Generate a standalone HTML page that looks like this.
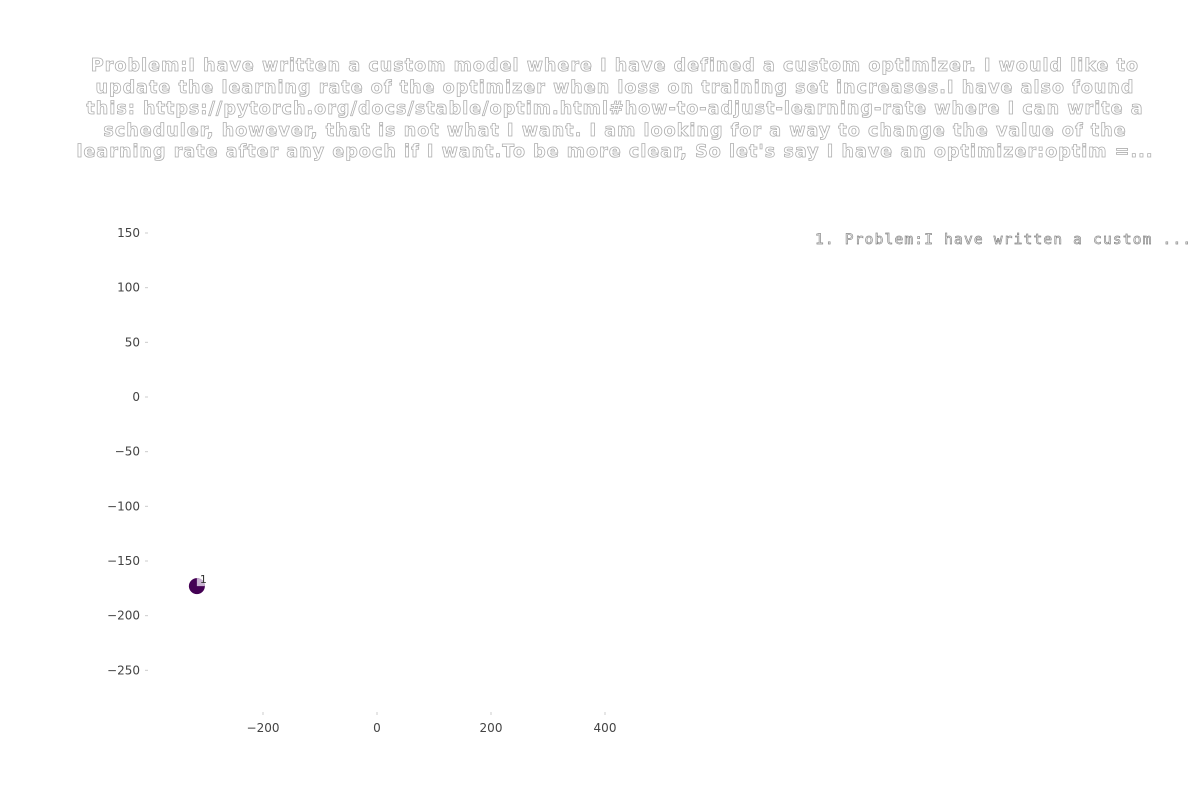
<!DOCTYPE html>
<html><head><meta charset="utf-8"><style>
body{margin:0;background:#fff;width:1200px;height:800px;overflow:hidden;font-family:"DejaVu Sans","Liberation Sans",sans-serif}
#title{position:absolute;left:0;width:1230px;top:56px;text-align:center;font-weight:bold;font-size:17.5px;line-height:21.6px;letter-spacing:1.05px;white-space:nowrap;color:#fff;-webkit-text-stroke:0.8px #b0b0b0}
#legend{position:absolute;left:815px;top:232px;font-family:"DejaVu Sans Mono","Liberation Mono",monospace;font-size:14.5px;letter-spacing:1.2px;color:#fff;-webkit-text-stroke:0.7px #888;white-space:pre}
</style></head><body>
<div id="title">Problem:I have written a custom model where I have defined a custom optimizer. I would like to<br>update the learning rate of the optimizer when loss on training set increases.I have also found<br>this: https://pytorch.org/docs/stable/optim.html#how-to-adjust-learning-rate where I can write a<br>scheduler, however, that is not what I want. I am looking for a way to change the value of the<br>learning rate after any epoch if I want.To be more clear, So let's say I have an optimizer:optim =...</div>
<div id="legend">1. Problem:I have written a custom ...</div>
<svg id="chart" width="1200" height="800" style="position:absolute;left:0;top:0"></svg>
<script>
const xTicks=[-200,0,200,400];
const yTicks=[150,100,50,0,-50,-100,-150,-200,-250];
const ptX=[-316];
const ptY=[-173];
const ptLabels=["1"];
const NS="http://www.w3.org/2000/svg";
const svg=document.getElementById('chart');
const sx=v=>377+v*0.57;
const sy=v=>397-v*1.0933;
function mk(t,a){const e=document.createElementNS(NS,t);for(const k in a)e.setAttribute(k,a[k]);svg.appendChild(e);return e;}
xTicks.forEach(v=>{
  const t=mk('text',{x:sx(v),y:732,'text-anchor':'middle','font-size':12,fill:'#444','font-family':'DejaVu Sans, sans-serif'});
  t.textContent=String(v).replace('-','\u2212');
  
  
  const m=mk('line',{x1:sx(v),x2:sx(v),y1:712,y2:715,stroke:'#ccc'});
  
  
});
yTicks.forEach(v=>{
  const t=mk('text',{x:140,y:sy(v)+4,'text-anchor':'end','font-size':12,fill:'#444','font-family':'DejaVu Sans, sans-serif'});
  t.textContent=String(v).replace('-','\u2212');
  
  
  const m=mk('line',{x1:145,x2:148,y1:sy(v),y2:sy(v),stroke:'#ccc'});
  
  
});
ptX.forEach((x,i)=>{
  const cx=sx(x),cy=sy(ptY[i]),r=8;
  const c=mk('circle',{cx:cx,cy:cy,r:r,fill:'#440154'});
  
  
  const w=mk('path',{d:`M${cx},${cy} L${cx},${cy-r} A${r},${r} 0 0 1 ${cx+r},${cy} Z`,fill:'#c9b3d1'});
  
  
  const l=mk('text',{x:cx+3,y:cy-3,'font-size':11,fill:'#333'});
  l.textContent=ptLabels[i];
  
  
});
</script>
</body></html>
